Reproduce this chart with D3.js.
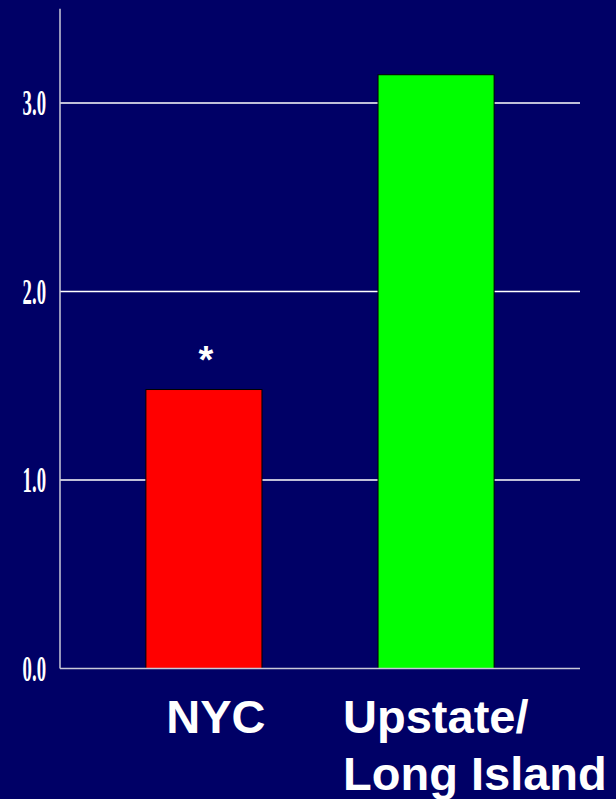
<!DOCTYPE html>
<html>
<head>
<meta charset="utf-8">
<script src="https://cdn.jsdelivr.net/npm/d3@7/dist/d3.min.js"></script>
<style>
  html, body { margin: 0; padding: 0; background: #000066; }
</style>
</head>
<body>
<div id="chart"></div>
<script>
const categories = ['NYC', 'Upstate/\nLong Island']
const values = [1.48, 3.15]
const barColors = ['#ff0000', '#00ff00']
const yTicks = [0, 1, 2, 3]
const yTickLabels = ['0.0', '1.0', '2.0', '3.0']
const marks = ['*', '']

const width = 616, height = 799

const svg = d3.select('#chart').append('svg')
  .attr('width', width)
  .attr('height', height)

svg.append('rect')
  .attr('width', width)
  .attr('height', height)
  .attr('fill', '#000066')

const x = d3.scaleBand()
  .domain(categories)
  .range([60, 580])
  .paddingInner(0.5)
  .paddingOuter(0.37)

const y = d3.scaleLinear()
  .domain([0, 3.5])
  .range([668.5, 8.75])

// gridlines
svg.append('g')
  .selectAll('line')
  .data(yTicks.filter(d => d > 0))
  .join('line')
  .attr('x1', 60)
  .attr('x2', 580)
  .attr('y1', d => y(d))
  .attr('y2', d => y(d))
  .attr('stroke', '#ffffff')
  .attr('stroke-width', 1.5)

// bars
svg.append('g')
  .selectAll('rect')
  .data(values)
  .join('rect')
  .attr('x', (d, i) => x(categories[i]))
  .attr('y', d => y(d))
  .attr('width', x.bandwidth())
  .attr('height', d => y(0) - y(d))
  .attr('fill', (d, i) => barColors[i])
  .attr('stroke', '#000000')
  .attr('stroke-width', 1)

// axis lines
svg.append('line')
  .attr('x1', 60).attr('x2', 60)
  .attr('y1', y(3.5)).attr('y2', y(0))
  .attr('stroke', '#c8c8d8')
  .attr('stroke-width', 1.5)
svg.append('line')
  .attr('x1', 60).attr('x2', 580)
  .attr('y1', y(0)).attr('y2', y(0))
  .attr('stroke', '#c8c8d8')
  .attr('stroke-width', 1.5)

// y tick labels, narrow bold serif
svg.append('g')
  .selectAll('text')
  .data(yTicks)
  .join('text')
  .attr('transform', d => `translate(46, ${y(d) + 12}) scale(0.52, 1)`)
  .attr('text-anchor', 'end')
  .attr('font-family', '"Liberation Serif", "Times New Roman", serif')
  .attr('font-weight', 'bold')
  .attr('font-size', 36)
  .attr('fill', '#ffffff')
  .text((d, i) => yTickLabels[i])

// significance marks
svg.append('g')
  .selectAll('text')
  .data(marks)
  .join('text')
  .attr('x', (d, i) => x(categories[i]) + x.bandwidth() / 2 + 2)
  .attr('y', (d, i) => y(values[i]) - 17)
  .attr('text-anchor', 'middle')
  .attr('font-family', '"Liberation Sans", Arial, sans-serif')
  .attr('font-weight', 'bold')
  .attr('font-size', 38)
  .attr('fill', '#ffffff')
  .text(d => d)

// category labels
const labelShift = [12, -93]
const labelAnchor = ['middle', 'start']
const labels = svg.append('g')
  .selectAll('text')
  .data(categories)
  .join('text')
  .attr('x', (d, i) => x(d) + x.bandwidth() / 2 + labelShift[i])
  .attr('y', 733)
  .attr('text-anchor', (d, i) => labelAnchor[i])
  .attr('font-family', '"Liberation Sans", Arial, sans-serif')
  .attr('font-weight', 'bold')
  .attr('font-size', 47)
  .attr('fill', '#ffffff')

labels.each(function(d) {
  const t = d3.select(this)
  const x0 = t.attr('x')
  d.split('\n').forEach((line, k) => {
    t.append('tspan')
      .attr('x', x0)
      .attr('dy', k === 0 ? 0 : 57)
      .text(line)
  })
})
</script>
</body>
</html>
